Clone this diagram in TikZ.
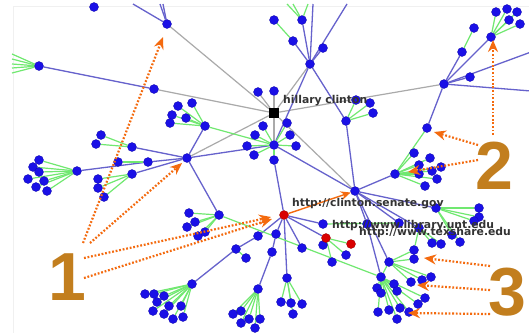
\documentclass[tikz,border=0pt]{standalone}
\usepackage{fontspec}
\newfontfamily\lblfont{DejaVu Sans}
\newfontfamily\numfont{Liberation Sans}
\usetikzlibrary{arrows.meta,backgrounds}
\definecolor{nodeblue}{HTML}{1A10E6}
\definecolor{edgeblue}{HTML}{6662CC}
\definecolor{edgegreen}{HTML}{70E870}
\definecolor{edgegray}{HTML}{AAAAAA}
\definecolor{arr}{HTML}{F46A0E}
\definecolor{numc}{HTML}{C27E1E}
\definecolor{txt}{HTML}{333333}
\begin{document}
\begin{tikzpicture}[x=1pt,y=-1pt,
 v/.style={circle,fill=nodeblue,draw=nodeblue!75!black,line width=0.3pt,inner sep=0pt,minimum size=9pt},
 rv/.style={v,fill=red!85!black,draw=red!60!black},
 hub/.style={rectangle,fill=black,inner sep=0pt,minimum size=10pt},
 be/.style={draw=edgeblue,line width=1.3pt},
 ge/.style={draw=edgegreen,line width=1.2pt},
 ye/.style={draw=edgegray,line width=1.2pt},
 oe/.style={draw=arr,line width=1.4pt,-{Stealth[length=10pt,width=9pt,inset=3.5pt]}},
 dotarrow/.style={draw=arr,line width=2.2pt,dash pattern=on 1.8pt off 1.8pt,-{Stealth[length=12pt,width=10pt,inset=4pt]}},
 lbl/.style={font=\lblfont\bfseries\fontsize{10.8}{12}\selectfont,text=txt,inner sep=0pt,anchor=west},
 num/.style={font=\numfont\bfseries\fontsize{68}{68}\selectfont,text=numc,inner sep=0pt}]
\useasboundingbox (0,0) rectangle (529,333);
\clip (0,0) rectangle (529,333);

% hub
\node[hub] (H) at (274,113) {};
% blue nodes
\foreach \n/\x/\y in {
 T1/310/64, t1a/274/20, t1b/302/20, t1c/293/41, t1d/323/48,
 TL/167/24, tl0/94/7,
 RC/444/84, rc1/462/52, rc2/474/28, rc3/491/37, rc4/470/77,
 rf1/496/12, rf2/507/9, rf3/517/12, rf4/509/20, rf5/520/24,
 n427/427/128,
 S2/395/174, s2a/414/153, s2b/430/158, s2c/419/165, s2d/441/167, s2e/432/171, s2f/419/174, s2g/437/179, s2h/425/186,
 N346/346/121, na/356/100, nb/370/103, nc/373/113,
 SN/355/191, L1/39/66, LA/154/89, M1/187/158,
 P1/205/126, p1a/178/106, p1b/192/103, p1c/172/115, p1d/186/118, p1e/170/123,
 H2/274/145, h2a/263/126, h2b/287/123, h2c/255/135, h2d/290/135, h2e/247/146, h2f/296/146, h2g/254/155, h2h/274/160,
 x1/258/92, x2/274/91,
 Q1/132/147, q1a/101/135, q1b/96/144,
 Q2/148/162, q2a/118/162,
 LF/77/171, lf1/39/160, lf2/33/167, lf3/39/172, lf4/28/179, lf5/44/181, lf6/36/187, lf7/47/191,
 Q3/132/174, q3a/98/179, q3b/98/188, q3c/104/197,
 B1/219/215, b1a/189/213, b1b/195/222, b1c/187/227, b1d/198/236, b1e/205/232,
 D1/258/236, D2/236/249, d3/246/258,
 F1/192/284, f1a/145/294, f1b/154/294, f1c/164/296, f1d/157/302, f1e/169/306, f1f/181/306, f1g/153/311, f1h/164/314, f1i/173/319, f1j/183/317,
 E1/276/234, E2/272/252,
 F2/258/289, f2a/233/314, f2b/241/311, f2c/249/319, f2d/260/319, f2e/241/323, f2f/255/328,
 G1/287/278, g1a/281/302, g1b/291/303, g1c/302/304, g1d/293/314,
 g2/302/248, C1/323/224,
 rr1/323/245, rr2/346/255, rr3/332/262,
 n367/367/224, n399/399/223, n419/419/228, n432/432/243, n441/441/244, n452/452/235, n460/460/242,
 W1/436/208, w1a/479/208, w1b/479/217, w1c/474/221,
 K1/389/262, k1a/414/250, k1b/414/259,
 K2/381/277, k2a/377/288, k2b/394/284, k2c/397/291, k2d/381/293, k2e/411/282, k2f/422/280, k2g/431/277,
 k2h/425/298, k2i/418/304, k2j/378/312, k2k/389/310, k2l/400/308, k2m/397/319, k2n/409/312}
 {\node[v] (\n) at (\x,\y) {};}
\node[rv] (R1) at (284,215) {};
\node[rv] (red1) at (326,238) {};
\node[rv] (red2) at (351,244) {};

% free ends at the picture's edges
\foreach \n/\x/\y in {ct1/287/4, ct2/293/4, ct3/308/4, ct5/313/4, ct6/347/4,
 ctl1/133/4, ctl2/160/4, ctl3/163/4, ce1/531/52, ce2/531/91,
 cl1/12/54, cl2/12/59, cl3/12/64, cl4/12/68, cl5/12/73}
 {\coordinate (\n) at (\x,\y);}

\begin{scope}[on background layer]
\fill[white] (0,0) rectangle (529,333);
\draw[gray!12,line width=0.8pt] (13,333) -- (13,6) -- (529,6);
% gray edges
\foreach \a/\b in {H/T1, H/RC, H/SN, H/LA, H/TL, H/M1, H/H2, H/x1, H/x2}
 {\draw[ye] (\a) -- (\b);}
% blue edges
\foreach \a/\b in {T1/t1b, T1/t1c, T1/t1d, T1/N346, T1/H2, T1/ct5, T1/ct6,
 TL/ctl1, TL/ctl2, TL/ctl3,
 RC/rc1, RC/rc3, RC/rc4, RC/ce1, RC/ce2, RC/n427,
 S2/SN, N346/SN, L1/LA, P1/M1, M1/H2, H2/SN, Q1/M1, LF/Q2, Q2/M1, Q3/M1, B1/M1,
 h2h/R1, R1/D1, D1/D2, D2/F1, R1/E1, E1/E2, E2/F2, R1/G1, R1/g2, R1/C1, R1/red1,
 SN/W1, SN/n399, SN/n419, SN/n367, n367/K2, SN/K1}
 {\draw[be] (\a) -- (\b);}
% green edges
\foreach \a/\b in {t1a/t1c, t1b/ct1, t1b/ct2, t1b/ct3,
 rc1/rc2, rc3/rf1, rc3/rf2, rc3/rf3, rc3/rf4, rc3/rf5,
 n427/S2, S2/s2a, S2/s2b, S2/s2c, S2/s2d, S2/s2e, S2/s2f, S2/s2g, S2/s2h,
 N346/na, N346/nb, N346/nc,
 L1/cl1, L1/cl2, L1/cl3, L1/cl4, L1/cl5,
 P1/p1a, P1/p1b, P1/p1c, P1/p1d, P1/p1e, P1/H2,
 H2/h2a, H2/h2b, H2/h2c, H2/h2d, H2/h2e, H2/h2f, H2/h2g, H2/h2h,
 Q1/q1a, Q1/q1b, Q2/q2a,
 LF/lf1, LF/lf2, LF/lf3, LF/lf4, LF/lf5, LF/lf6, LF/lf7,
 Q3/q3a, Q3/q3b, Q3/q3c,
 B1/b1a, B1/b1b, B1/b1c, B1/b1d, B1/b1e, B1/K2,
 D2/d3,
 F1/f1a, F1/f1b, F1/f1c, F1/f1d, F1/f1e, F1/f1f, F1/f1g, F1/f1h, F1/f1i, F1/f1j,
 F2/f2a, F2/f2b, F2/f2c, F2/f2d, F2/f2e, F2/f2f,
 G1/g1a, G1/g1b, G1/g1c, G1/g1d,
 red1/red2, red1/rr1, red1/rr2, red1/rr3, C1/n399,
 W1/w1a, W1/w1b, W1/w1c, W1/n452, W1/n460,
 n419/n432, n419/n441,
 K1/K2, K1/k1a, K1/k1b, k1a/n419, K1/k2e, K1/k2f, K1/k2g,
 K2/k2a, K2/k2b, K2/k2c, K2/k2d, K2/k2h, K2/k2i, K2/k2j, K2/k2k, K2/k2l, K2/k2m, K2/k2n}
 {\draw[ge] (\a) -- (\b);}
\end{scope}
\draw[oe] (R1) -- (SN);

% labels
\node[lbl] (lh) at (283,101) {hillary clinton};
\node[lbl] (ls) at (292,204) {http://clinton.senate.gov};
\node[lbl] (ll) at (332,226) {http://www.library.unt.edu};
\node[lbl] (lt) at (359,233) {http://www.texshare.edu};

% annotation numbers and arrows
\node[num] (one) at (67,277) {1};
\node[num] (two) at (494,166) {2};
\node[num] (three) at (507,292) {3};
\foreach \n/\x/\y in {a1s/83/243, a1e/163/37, b1s/90/243, b1t/182/163,
 c1s/84/258, c1e/271/217, d1s/84/278, d1e/272/219,
 a2s/493/135, a2e/493/40, b2s/478/145, b2e/434/132, c2s/478/160, c2e/408/172,
 a3s/490/266, a3e/424/258, b3s/490/290, b3e/417/285, c3s/490/314, c3e/408/313}
 {\coordinate (\n) at (\x,\y);}
\foreach \a/\b in {a1s/a1e, b1s/b1t, c1s/c1e, d1s/d1e, a2s/a2e, b2s/b2e, c2s/c2e, a3s/a3e, b3s/b3e, c3s/c3e}
 {\draw[dotarrow] (\a) -- (\b);}
\end{tikzpicture}
\end{document}
